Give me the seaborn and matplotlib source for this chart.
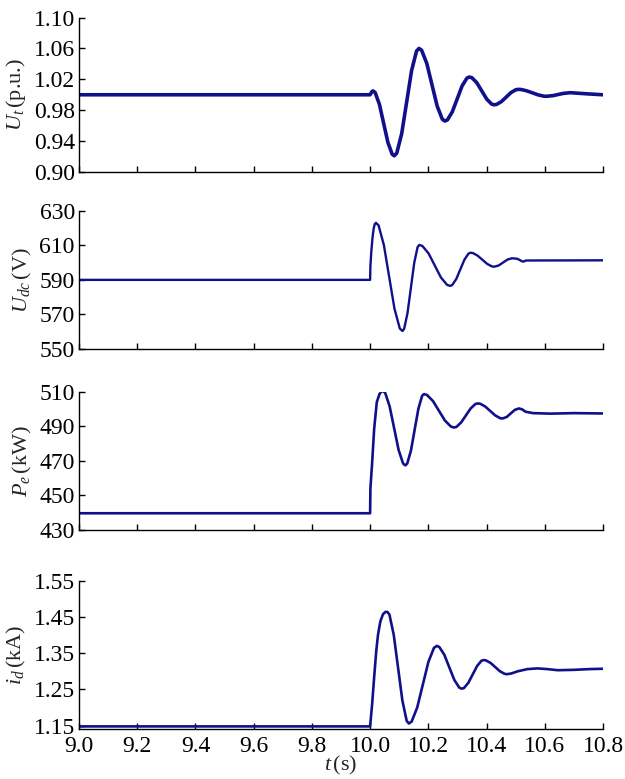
import matplotlib
matplotlib.use("Agg")
import matplotlib.pyplot as plt
import matplotlib.ticker as mticker
import seaborn as sns
import pandas as pd

# ---- terminal voltage U_t (p.u.)
t_ut = [9.0, 10.000, 10.006, 10.010,
        10.0173, 10.0319, 10.0465, 10.0611, 10.0757, 10.083,
        10.0915, 10.1085, 10.1255, 10.1425, 10.1595, 10.168,
        10.1769, 10.1947, 10.2125, 10.2303, 10.2481, 10.257,
        10.2654, 10.2822, 10.2990, 10.3158, 10.3326, 10.341,
        10.3495, 10.3665, 10.3835, 10.4005, 10.4175, 10.426,
        10.4343, 10.4509, 10.4675, 10.4841, 10.5007, 10.509,
        10.5187, 10.5381, 10.5575, 10.5769, 10.5963, 10.606,
        10.6303, 10.6465, 10.6627, 10.687, 10.745, 10.8]
ut = [1.000, 1.000, 1.004, 1.005,
      1.0029, 0.9877, 0.9630, 0.9383, 0.9231, 0.921,
      0.9244, 0.9497, 0.9905, 1.0314, 1.0566, 1.060,
      1.0577, 1.0406, 1.0130, 0.9854, 0.9683, 0.966,
      0.9674, 0.9778, 0.9945, 1.0113, 1.0216, 1.023,
      1.0221, 1.0156, 1.0050, 0.9944, 0.9879, 0.987,
      0.9875, 0.9911, 0.9970, 1.0029, 1.0065, 1.007,
      1.0068, 1.0051, 1.0025, 0.9999, 0.9982, 0.998,
      0.9990, 1.0004, 1.0017, 1.0027, 1.0012, 1.000]

# ---- DC-link voltage U_dc (V)
t_udc = [9.0, 10.000, 10.001, 10.004, 10.008, 10.012, 10.016, 10.020,
         10.0291, 10.0473, 10.0655, 10.0837, 10.1019, 10.111,
         10.1168, 10.1284, 10.1400, 10.1516, 10.1632, 10.169,
         10.1796, 10.2008, 10.2220, 10.2432, 10.2644, 10.275,
         10.2820, 10.2960, 10.3100, 10.3240, 10.3380, 10.345,
         10.3531, 10.3693, 10.3855, 10.4017, 10.4179, 10.426,
         10.4415, 10.4570, 10.4725, 10.488,
         10.505, 10.515, 10.522, 10.528, 10.535, 10.8]
udc = [590.0, 590.0, 598.0, 606.0, 614.0, 619.5, 622.3, 623.0,
       621.5, 610.1, 591.7, 573.3, 561.9, 560.4,
       561.6, 570.7, 585.3, 599.9, 609.0, 610.2,
       609.6, 605.3, 598.35, 591.4, 587.1, 586.5,
       587.0, 590.5, 596.1, 601.7, 605.2, 605.7,
       605.5, 604.0, 601.65, 599.3, 597.8, 597.6,
       598.3, 600.05, 601.8, 602.5,
       602.2, 601.4, 600.7, 600.6, 601.2, 601.3]

# ---- electrical power P_e (kW)
t_pe = [9.0, 10.000, 10.001, 10.007, 10.014, 10.023, 10.032, 10.038, 10.044,
        10.0517, 10.0671, 10.0825, 10.0979, 10.1133, 10.121,
        10.1274, 10.1402, 10.1530, 10.1658, 10.1786, 10.185,
        10.1953, 10.2159, 10.2365, 10.2571, 10.2777, 10.288,
        10.2962, 10.3126, 10.3290, 10.3454, 10.3618, 10.370,
        10.3785, 10.3955, 10.4125, 10.4295, 10.4465, 10.455,
        10.469, 10.483, 10.497, 10.511,
        10.522, 10.534, 10.56, 10.62, 10.70, 10.8]
pe = [439.7, 439.7, 454.0, 469.0, 488.7, 504.0, 508.5, 510.0, 510.4,
      509.35, 501.5, 488.9, 476.3, 468.45, 467.4,
      468.4, 475.9, 488.0, 500.1, 507.6, 508.6,
      508.1, 504.6, 498.95, 493.3, 489.8, 489.3,
      489.6, 492.2, 496.25, 500.3, 502.9, 503.2,
      503.0, 501.4, 498.85, 496.3, 494.7, 494.5,
      495.35, 497.4, 499.45, 500.3,
      499.8, 498.4, 497.6, 497.3, 497.6, 497.4]

# ---- d-axis current i_d (kA)
t_id = [9.0, 10.000, 10.007, 10.014, 10.021, 10.027, 10.035, 10.044, 10.052, 10.059,
        10.0664, 10.0812, 10.0960, 10.1108, 10.1256, 10.133,
        10.1426, 10.1618, 10.1810, 10.2002, 10.2194, 10.229,
        10.2376, 10.2548, 10.2720, 10.2892, 10.3064, 10.315,
        10.3225, 10.3375, 10.3525, 10.3675, 10.3825, 10.390,
        10.398, 10.414, 10.430, 10.446, 10.462, 10.470,
        10.485, 10.507, 10.540, 10.575, 10.610, 10.644, 10.700, 10.750, 10.8]
i_d = [1.148, 1.148, 1.210, 1.285, 1.355, 1.400, 1.437, 1.457, 1.4635, 1.464,
       1.4565, 1.4005, 1.3100, 1.2195, 1.1635, 1.156,
       1.1612, 1.2001, 1.2630, 1.3259, 1.3648, 1.370,
       1.3671, 1.3457, 1.3110, 1.2763, 1.2549, 1.252,
       1.2539, 1.2683, 1.2915, 1.3147, 1.3291, 1.331,
       1.3300, 1.3230, 1.3115, 1.3000, 1.2930, 1.292,
       1.294, 1.300, 1.306, 1.308, 1.306, 1.303, 1.304, 1.306, 1.307]

x_ticks = [9.0, 9.2, 9.4, 9.6, 9.8, 10.0, 10.2, 10.4, 10.6, 10.8]

panels = [
    dict(t=t_ut, y=ut, label=r"$U_t\,$(p.u.)", ylim=(0.90, 1.10),
         ticks=[0.90, 0.94, 0.98, 1.02, 1.06, 1.10], fmt="%.2f", lw=2.6,
         rect=[0.1264, 0.7792, 0.8384, 0.1983]),
    dict(t=t_udc, y=udc, label=r"$U_{dc}\,$(V)", ylim=(550, 630),
         ticks=[550, 570, 590, 610, 630], fmt="%d", lw=1.7,
         rect=[0.1264, 0.5520, 0.8384, 0.1775]),
    dict(t=t_pe, y=pe, label=r"$P_e\,$(kW)", ylim=(430, 510),
         ticks=[430, 450, 470, 490, 510], fmt="%d", lw=1.9,
         rect=[0.1264, 0.3196, 0.8384, 0.1776]),
    dict(t=t_id, y=i_d, label=r"$i_d\,$(kA)", ylim=(1.14, 1.55),
         ticks=[1.15, 1.25, 1.35, 1.45, 1.55], fmt="%.2f", lw=1.9,
         rect=[0.1264, 0.0638, 0.8384, 0.1908]),
]

sns.set_theme(style="ticks")
plt.rcParams.update({
    "font.family": ["Liberation Serif", "DejaVu Serif"],
    "mathtext.fontset": "custom",
    "mathtext.rm": "Liberation Serif",
    "mathtext.it": "Liberation Serif:italic",
    "mathtext.bf": "Liberation Serif:bold",
    "xtick.direction": "in",
    "ytick.direction": "in",
    "xtick.major.size": 4,
    "ytick.major.size": 4,
    "xtick.major.width": 1.0,
    "ytick.major.width": 1.0,
    "axes.linewidth": 1.0,
    "axes.edgecolor": "black",
    "xtick.color": "black",
    "ytick.color": "black",
})

line_color = "#10108a"
fig = plt.figure(figsize=(6.25, 7.79), dpi=100)

for i, p in enumerate(panels):
    ax = fig.add_axes(p["rect"])
    df = pd.DataFrame({"t": p["t"], "v": p["y"]})
    sns.lineplot(data=df, x="t", y="v", ax=ax, color=line_color,
                 linewidth=p["lw"], estimator=None, sort=False)
    ax.lines[-1].set_solid_joinstyle("round")
    ax.set_xlim(9.0, 10.8)
    ax.set_ylim(*p["ylim"])
    ax.set_xticks(x_ticks)
    ax.set_yticks(p["ticks"])
    ax.yaxis.set_major_formatter(mticker.FormatStrFormatter(p["fmt"]))
    ax.xaxis.set_major_formatter(mticker.FormatStrFormatter("%.1f"))
    ax.tick_params(axis="y", labelsize=17, pad=3)
    ax.tick_params(axis="x", labelsize=17, pad=5)
    ax.set_ylabel(p["label"], fontsize=16, labelpad=4)
    sns.despine(ax=ax)
    if i < len(panels) - 1:
        ax.tick_params(axis="x", labelbottom=False)
        ax.set_xlabel("")
    else:
        ax.set_xlabel(r"$t\,$(s)", fontsize=16, labelpad=-2)

fig.savefig("out.png", dpi=100)
